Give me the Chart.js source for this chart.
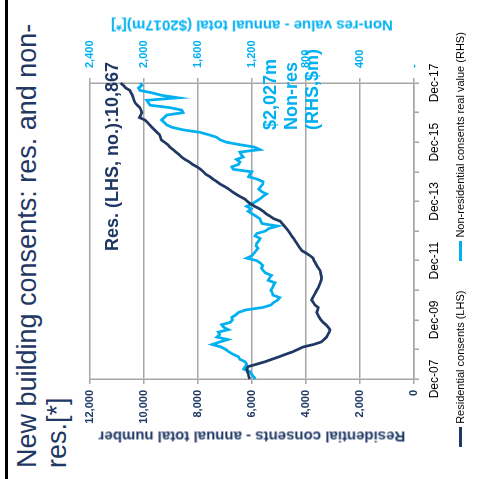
<!DOCTYPE html>
<html>
<head>
<meta charset="utf-8">
<script src="https://cdn.jsdelivr.net/npm/chart.js@4.4.1/dist/chart.umd.min.js"></script>
<style>
  html, body { margin: 0; padding: 0; background: #fff; width: 490px; height: 479px; overflow: hidden; }
  /* the slide is laid out upright (479 x 490) and turned a quarter turn to the left */
  #page {
    position: absolute; left: 0; top: 0; width: 479px; height: 490px;
    transform-origin: 0 0; transform: translate(0, 479px) rotate(-90deg);
    background: #fff; font-family: "Liberation Sans", Arial, sans-serif; overflow: hidden;
  }
  #rule { position: absolute; left: 0; top: 5px; width: 479px; height: 3px; background: #000; }
  #title { position: absolute; left: 11px; top: 12px; font-size: 27px; line-height: 30px; color: #1F3864; white-space: nowrap; }
  #chart { position: absolute; left: 0; top: 0; }
  .axis-title {
    position: absolute; top: 252px; white-space: nowrap; font-weight: bold; font-size: 15px;
    transform: translate(-50%, -50%) rotate(-90deg);
  }
  #legend {
    position: absolute; left: 0; top: 453px; width: 479px; display: flex; justify-content: center;
    font-size: 11px; line-height: 14px; color: #000; gap: 30px;
  }
  #legend .item { display: flex; align-items: center; white-space: nowrap; }
  #legend .swatch { display: inline-block; width: 20px; height: 3px; margin-right: 3px; }
</style>
</head>
<body>
<div id="page">
  <div id="rule"></div>
  <div id="title">New building consents: res. and non-<br>res.[*]</div>
  <canvas id="chart" width="479" height="490"></canvas>
  <div class="axis-title" id="leftTitle" style="left:42px;color:#1F3864;"></div>
  <div class="axis-title" id="rightTitle" style="left:453px;color:#00B0F0;"></div>
  <div id="legend"></div>
</div>
<script>
// Residential consents, annual total (number), monthly Dec-07 .. Dec-17
const resConsents = [
  6080, 6120, 6140, 6170, 6190, 6150, 5830, 5520, 5260, 5000,
  4760, 4500, 4300, 4100, 3720, 3440, 3330, 3240, 3190, 3140,
  3110, 3180, 3260, 3370, 3450, 3510, 3560, 3600, 3570, 3545,
  3670, 3730, 3790, 3750, 3700, 3650, 3600, 3550, 3510, 3470,
  3440, 3420, 3440, 3460, 3480, 3540, 3600, 3650, 3700, 3740,
  3850, 3990, 4150, 4220, 4280, 4340, 4400, 4460, 4530, 4590,
  4650, 4720, 4800, 4880, 4960, 5200, 5330, 5480, 5590, 5720,
  5900, 6050, 6170, 6270, 6450, 6600, 6740, 6860, 7010, 7180,
  7300, 7440, 7560, 7710, 7800, 7900, 8040, 8200, 8320, 8480,
  8610, 8700, 8820, 8920, 9040, 9120, 9240, 9360, 9390, 9420,
  9520, 9610, 9700, 9790, 9870, 9960, 10170, 10120, 10080, 10110,
  10150, 10250, 10330, 10370, 10400, 10430, 10480, 10520, 10680, 10760,
  10867
];

// Non-residential consents, real value, annual total ($2017m), monthly Dec-07 .. Dec-17
const nonResValue = [
  1175, 1190, 1205, 1215, 1262, 1250, 1240, 1252, 1290, 1300,
  1340, 1370, 1395, 1430, 1495, 1440, 1380, 1460, 1440, 1450,
  1375, 1410, 1425, 1360, 1345, 1350, 1320, 1300, 1245, 1120,
  1060, 1040, 1010, 995, 1045, 1050, 1060, 1048, 1040, 1030,
  1080, 1070, 1055, 1100, 1118, 1130, 1120, 1138, 1165, 1240,
  1200, 1185, 1170, 1155, 1170, 1165, 1150, 1140, 1178, 1165,
  1100, 1075, 1010, 1125, 1135, 1142, 1170, 1200, 1228, 1205,
  1240, 1200, 1170, 1142, 1120, 1092, 1130, 1150, 1135, 1120,
  1118, 1160, 1225, 1215, 1202, 1338, 1350, 1300, 1290, 1315,
  1265, 1280, 1290, 1142, 1180, 1290, 1390, 1438, 1462, 1520,
  1585, 1710, 1790, 1832, 1850, 1870, 1850, 1832, 1710, 1720,
  1807, 1955, 1968, 1980, 1746, 1870, 1940, 2030, 2040, 2017,
  2027
];

// Labelled date ticks (every second December)
const dateTickLabels = ['Dec-07', 'Dec-09', 'Dec-11', 'Dec-13', 'Dec-15', 'Dec-17'];

const seriesNames = ['Residential consents (LHS)', 'Non-residential consents real value (RHS)'];
const leftAxisTitle = 'Residential consents - annual total number';
const rightAxisTitle = 'Non-res value - annual total ($2017m)[*]';

const NAVY = '#1F3864';
const BLUE = '#00B0F0';
const GRID = '#A6A6A6';
const FONT = '"Liberation Sans", Arial, sans-serif';

// month categories starting at Dec-07
const MONTHS = ['Jan','Feb','Mar','Apr','May','Jun','Jul','Aug','Sep','Oct','Nov','Dec'];
const monthLabels = resConsents.map((_, i) => {
  const k = 11 + i;
  return MONTHS[k % 12] + '-' + String(7 + Math.floor(k / 12)).padStart(2, '0');
});

const fmt = v => v.toLocaleString('en-US');

document.getElementById('leftTitle').textContent = leftAxisTitle;
document.getElementById('rightTitle').textContent = rightAxisTitle;

// value call-outs next to the last points
const endLabels = {
  id: 'endLabels',
  afterDatasetsDraw(chart) {
    const ctx = chart.ctx;
    const resPts = chart.getDatasetMeta(0).data;
    const nonPts = chart.getDatasetMeta(1).data;
    const rp = resPts[resPts.length - 1];
    const np = nonPts[nonPts.length - 1];
    ctx.save();
    ctx.font = 'bold 18px ' + FONT;
    ctx.textBaseline = 'alphabetic';
    ctx.fillStyle = NAVY;
    ctx.textAlign = 'right';
    ctx.fillText('Res. (LHS, no.):' + fmt(resConsents[resConsents.length - 1]), rp.x + 21, rp.y - 3);
    ctx.fillStyle = BLUE;
    ctx.textAlign = 'left';
    const lines = ['$' + fmt(nonResValue[nonResValue.length - 1]) + 'm', 'Non-res', '(RHS,$m)'];
    lines.forEach((t, i) => ctx.fillText(t, np.x - 47, np.y + 136 + i * 21));
    ctx.restore();
  }
};

const chart = new Chart(document.getElementById('chart'), {
  type: 'line',
  data: {
    labels: monthLabels,
    datasets: [
      { label: seriesNames[0], data: resConsents, yAxisID: 'y', borderColor: NAVY, borderWidth: 2.75,
        pointRadius: 0, tension: 0, fill: false },
      { label: seriesNames[1], data: nonResValue, yAxisID: 'y1', borderColor: BLUE, borderWidth: 2.75,
        pointRadius: 0, tension: 0, fill: false }
    ]
  },
  options: {
    responsive: false,
    animation: false,
    devicePixelRatio: 1,
    layout: { padding: { top: 90, left: 0, right: 0, bottom: 0 } },
    plugins: { legend: { display: false }, title: { display: false }, tooltip: { enabled: false } },
    scales: {
      x: {
        type: 'category',
        offset: false,
        afterFit(s) { s.height = 76; },
        grid: { drawOnChartArea: false, color: GRID, lineWidth: 1.5, tickLength: 5 },
        border: { display: true, color: GRID, width: 1.5 },
        ticks: {
          autoSkip: false, maxRotation: 0, minRotation: 0, padding: 8,
          color: '#000', font: { family: FONT, size: 12 },
          callback(v, i) {
            const lab = monthLabels[i];
            if (!lab.startsWith('Dec')) return null;
            return dateTickLabels.includes(lab) ? lab : '';
          }
        }
      },
      y: {
        position: 'left', min: 0, max: 12000,
        afterFit(s) { s.width = 100; },
        grid: { color: GRID, lineWidth: 1.5, tickLength: 5 },
        border: { display: true, color: GRID, width: 1.5 },
        ticks: { stepSize: 2000, padding: 6, color: NAVY, font: { family: FONT, size: 11, weight: 'bold' },
                 callback: v => fmt(v) }
      },
      y1: {
        position: 'right', min: 0, max: 2400,
        afterFit(s) { s.width = 83; },
        grid: { drawOnChartArea: false, color: GRID, lineWidth: 1.5, tickLength: 5 },
        border: { display: true, color: GRID, width: 1.5 },
        ticks: { stepSize: 400, padding: 10, color: BLUE, font: { family: FONT, size: 11, weight: 'bold' },
                 callback: v => (v === 0 ? '-' : fmt(v)) }
      }
    }
  },
  plugins: [endLabels]
});

// legend built from the dataset styles
const legend = document.getElementById('legend');
chart.data.datasets.forEach(ds => {
  const item = document.createElement('span');
  item.className = 'item';
  const sw = document.createElement('span');
  sw.className = 'swatch';
  sw.style.background = ds.borderColor;
  item.appendChild(sw);
  item.appendChild(document.createTextNode(ds.label));
  legend.appendChild(item);
});
</script>
</body>
</html>
